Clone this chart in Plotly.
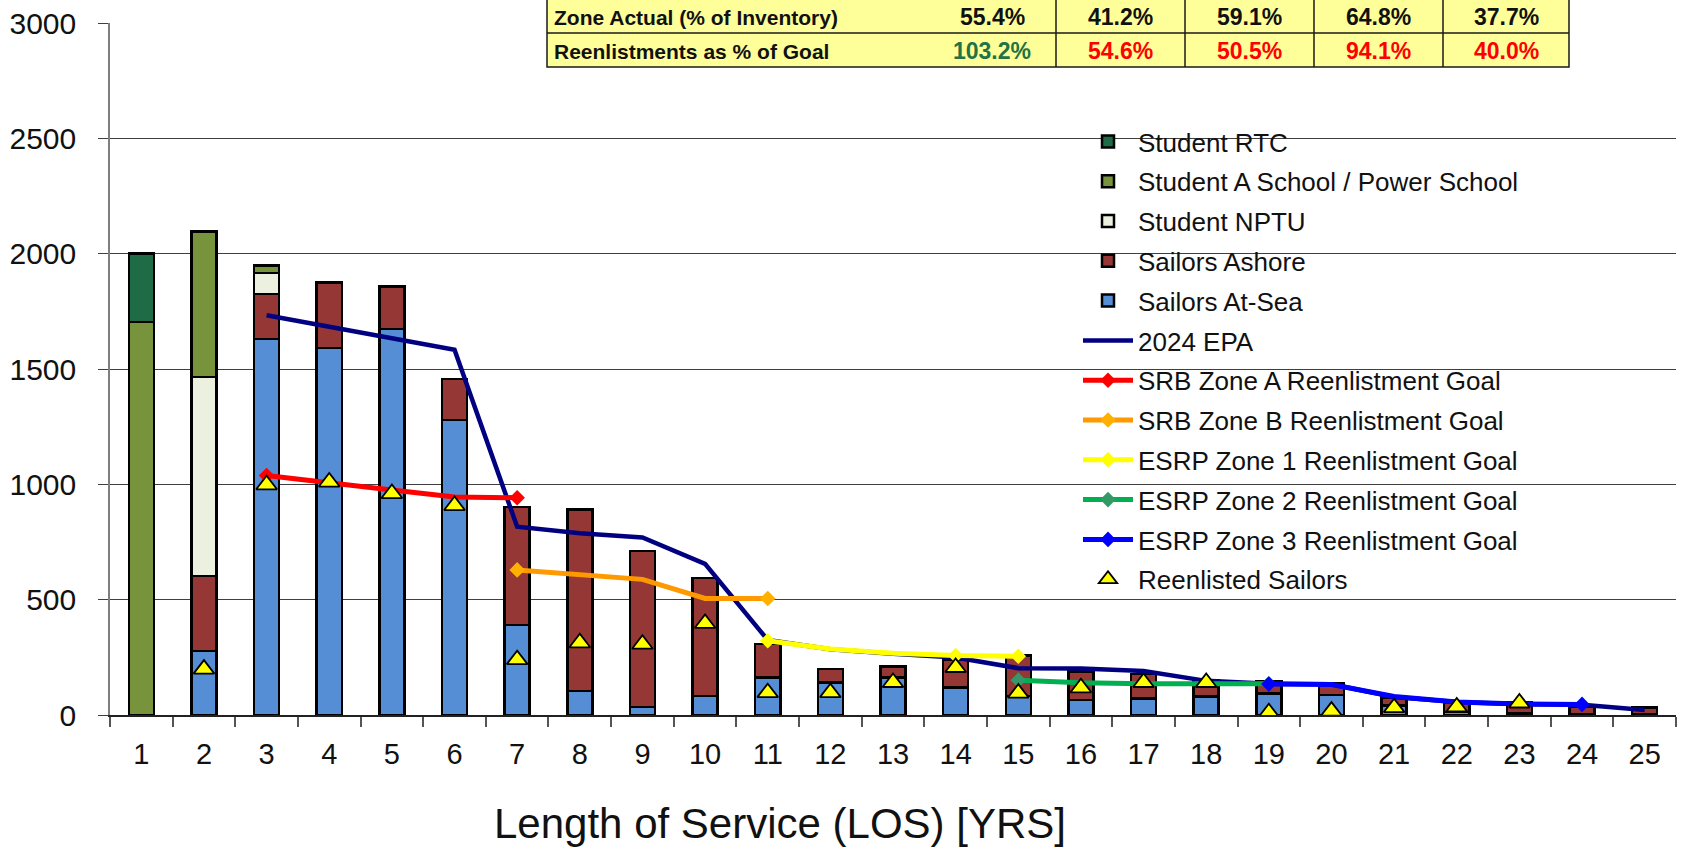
import plotly.graph_objects as go

# canvas / plot-area geometry in pixels
W, H = 1682, 849
L, R, T, B = 110, 6, 23, 134

FONT = "Liberation Sans, Arial, sans-serif"

los = [str(i) for i in range(1, 26)]

# stacked inventory, bottom -> top
sailors_at_sea = [None, 278, 1630, 1592, 1674, 1279, 390, 104, 35, 83, 162, 141, 162,
                  119, 83, 64, 71, 80, 93, 87, 42, 14, 6, 5, 3]
sailors_ashore = [None, 324, 195, 284, 183, 177, 511, 786, 675, 511, 145, 58, 48,
                  119, 176, 124, 106, 72, 55, 51, 33, 40, 48, 30, 29]
student_nptu = [None, 863, 91] + [None] * 22
student_a_school = [1704, 631, 33] + [None] * 22
student_rtc = [296] + [None] * 24

# 2024 EPA (LOS 3-25)
epa_los = [str(i) for i in range(3, 26)]
epa = [1733, 1683, 1633, 1583, 816, 788, 770, 655, 325, 285, 266, 249, 203, 202,
       191, 148, 136, 133, 78, 56, 47, 44, 22]

# reenlistment goals per zone
srb_a_los = ["3", "4", "5", "6", "7"]
srb_a = [1038, 1005, 975, 945, 942]
srb_b_los = ["7", "8", "9", "10", "11"]
srb_b = [629, 606, 588, 505, 505]
esrp1_los = ["11", "12", "13", "14", "15"]
esrp1 = [322, 286, 268, 258, 255]
esrp2_los = ["15", "16", "17", "18", "19"]
esrp2 = [151, 140, 136, 136, 135]
esrp3_los = ["19", "20", "21", "22", "23", "24"]
esrp3 = [134, 132, 80, 56, 48, 46]

reenlisted = [None, 199, 998, 1010, 960, 908, 240, 313, 307, 397, 97, 97, 141, 206,
              95, 118, 141, 141, 10, 17, 32, 35, 52, None, None]

# summary table
table_labels = ["Zone Actual (% of Inventory)", "Reenlistments as % of Goal"]
zone_actual = [55.4, 41.2, 59.1, 64.8, 37.7]
reenlist_pct_goal = [103.2, 54.6, 50.5, 94.1, 40.0]


def px_x(px):
    return (px - L) / (W - L - R)


def px_y(py):
    return (H - B - py) / (H - T - B)


fig = go.Figure()

bars = [
    ("Sailors At-Sea", sailors_at_sea, "#558ED5", 5),
    ("Sailors Ashore", sailors_ashore, "#953735", 4),
    ("Student NPTU", student_nptu, "#EBF1DE", 3),
    ("Student A School / Power School", student_a_school, "#77933C", 2),
    ("Student RTC", student_rtc, "#1E6B45", 1),
]
for name, vals, color, rank in bars:
    fig.add_bar(x=los, y=vals, name=name, legendrank=rank, legendgroup=name,
                marker=dict(color=color, line=dict(color="black", width=2.5)))

fig.add_scatter(x=epa_los, y=epa, name="2024 EPA", mode="lines", legendrank=6,
                legendgroup="epa", line=dict(color="#000080", width=4.5))

goals = [
    ("SRB Zone A Reenlistment Goal", srb_a_los, srb_a, "#FF0000", "#FF0000", [0, 4], 7),
    ("SRB Zone B Reenlistment Goal", srb_b_los, srb_b, "#FF9900", "#FFB000", [0, 4], 8),
    ("ESRP Zone 1 Reenlistment Goal", esrp1_los, esrp1, "#FFFF00", "#FFFF00", [0, 3, 4], 9),
    ("ESRP Zone 2 Reenlistment Goal", esrp2_los, esrp2, "#00B050", "#339966", [0, 4], 10),
    ("ESRP Zone 3 Reenlistment Goal", esrp3_los, esrp3, "#0000FF", "#0000FF", [0, 5], 11),
]
for name, x, y, color, mcolor, marked, rank in goals:
    fig.add_scatter(x=x, y=y, name=name, mode="lines+markers", legendrank=rank,
                    legendgroup=name, line=dict(color=color, width=5),
                    marker=dict(symbol="diamond", size=12, color=mcolor),
                    selectedpoints=marked,
                    unselected=dict(marker=dict(opacity=0)))

fig.add_scatter(x=los, y=reenlisted, name="Reenlisted Sailors", mode="markers",
                legendrank=12, legendgroup="reen",
                marker=dict(symbol="triangle-up", size=18, color="#FFFF00",
                            line=dict(color="black", width=1.8)))

shapes = []
annotations = []

# white box behind the legend (hides gridlines there)
shapes.append(dict(type="rect", xref="paper", yref="paper", layer="between",
                   x0=px_x(1045), x1=px_x(1566), y0=px_y(612), y1=px_y(122),
                   fillcolor="white", line=dict(width=0)))
# no gridline to the right of the table
shapes.append(dict(type="rect", xref="paper", yref="paper", layer="above",
                   x0=px_x(1569), x1=px_x(W), y0=px_y(30), y1=px_y(14),
                   fillcolor="white", line=dict(width=0)))

# summary table at top
tab_left, tab_right = 547, 1569
row_edges = [0, 33, 67]
col_edges = [928, 1056, 1185, 1314, 1443, 1569]
shapes.append(dict(type="rect", xref="paper", yref="paper", layer="above",
                   x0=px_x(tab_left), x1=px_x(tab_right), y0=px_y(row_edges[2]), y1=px_y(-2),
                   fillcolor="#FFFF99", line=dict(color="#1a1a1a", width=1.5)))
shapes.append(dict(type="line", xref="paper", yref="paper", layer="above",
                   x0=px_x(tab_left), x1=px_x(tab_right), y0=px_y(row_edges[1]),
                   y1=px_y(row_edges[1]), line=dict(color="#1a1a1a", width=1.5)))
for ce in col_edges[1:-1]:
    shapes.append(dict(type="line", xref="paper", yref="paper", layer="above",
                       x0=px_x(ce), x1=px_x(ce), y0=px_y(row_edges[2]), y1=px_y(-2),
                       line=dict(color="#1a1a1a", width=1.5)))

rows = [
    (zone_actual, ["#111111"] * len(zone_actual)),
    (reenlist_pct_goal, ["#217346" if v >= 100 else "#FF0000" for v in reenlist_pct_goal]),
]
for r, (label, (vals, colors)) in enumerate(zip(table_labels, rows)):
    yc = px_y((row_edges[r] + row_edges[r + 1]) / 2 + 1)
    annotations.append(dict(text="<b>%s</b>" % label, xref="paper", yref="paper",
                            x=px_x(552), y=yc, xanchor="left", yanchor="middle",
                            showarrow=False, font=dict(family=FONT, size=21, color="#111111")))
    for c, (v, col) in enumerate(zip(vals, colors)):
        xc = px_x((col_edges[c] + col_edges[c + 1]) / 2)
        annotations.append(dict(text="<b>%.1f%%</b>" % v, xref="paper", yref="paper",
                                x=xc, y=yc, xanchor="center", yanchor="middle",
                                showarrow=False, font=dict(family=FONT, size=23, color=col)))

annotations.append(dict(text="Length of Service (LOS) [YRS]", xref="paper", yref="paper",
                        x=px_x(780), y=px_y(823), xanchor="center", yanchor="middle",
                        showarrow=False, font=dict(family=FONT, size=42, color="#111111")))

fig.update_layout(
    width=W, height=H,
    margin=dict(l=L, r=R, t=T, b=B, pad=0),
    paper_bgcolor="white", plot_bgcolor="white",
    barmode="stack", bargap=0.6,
    font=dict(family=FONT, color="#111111"),
    showlegend=True,
    legend=dict(x=px_x(1078), y=px_y(118), xanchor="left", yanchor="top",
                bgcolor="rgba(0,0,0,0)", borderwidth=0, itemwidth=50,
                font=dict(family=FONT, size=26, color="#111111"),
                traceorder="grouped", tracegroupgap=3),
    shapes=shapes, annotations=annotations,
)
fig.update_xaxes(type="category", range=[-0.5, 24.5], tickson="boundaries",
                 ticks="outside", ticklen=10, tickwidth=1.5, tickcolor="#555555",
                 showline=True, linecolor="#222222", linewidth=2,
                 showgrid=False, ticklabelstandoff=12,
                 tickfont=dict(family=FONT, size=29, color="#111111"))
fig.update_yaxes(range=[0, 3000], dtick=500, tickmode="linear",
                 showgrid=True, gridcolor="#3f3f3f", gridwidth=1.3, zeroline=False,
                 showline=True, linecolor="#7f7f7f", linewidth=1.5,
                 ticks="outside", ticklen=10, tickwidth=1.3, tickcolor="#3f3f3f",
                 ticklabelstandoff=16,
                 tickfont=dict(family=FONT, size=30, color="#111111"))

fig.write_html("out.html", config={"displayModeBar": False},
               post_script="document.body.style.margin='0';document.body.style.overflow='hidden';")
